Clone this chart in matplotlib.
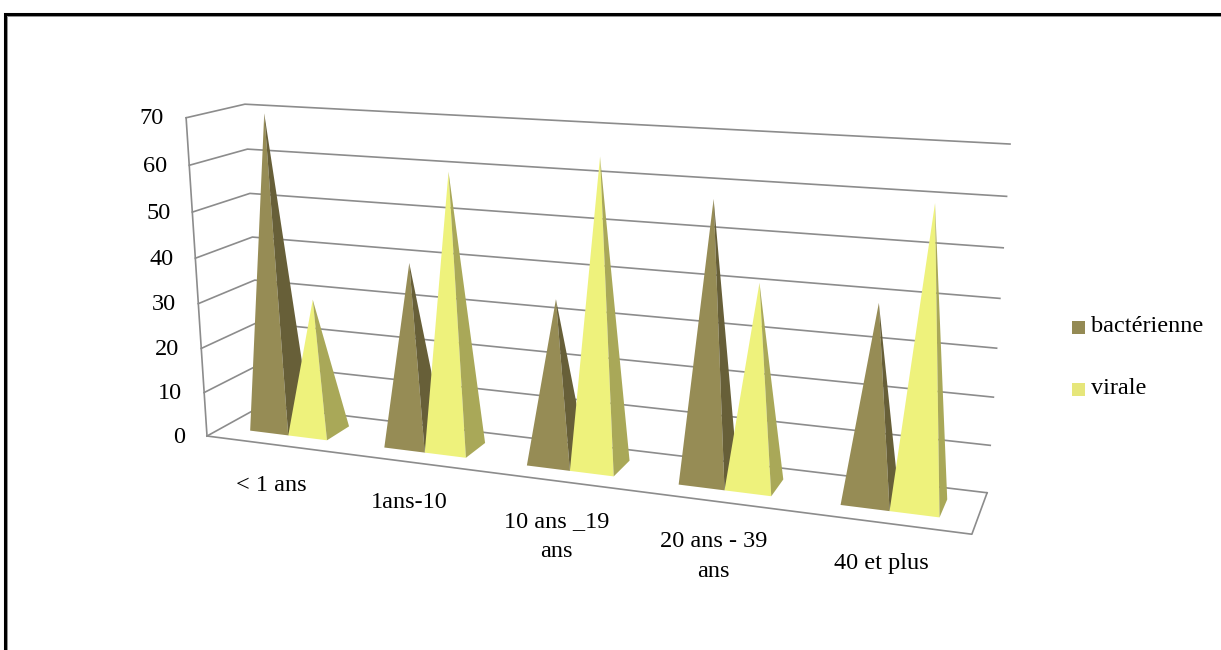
import numpy as np
import matplotlib
matplotlib.use('Agg')
import matplotlib.pyplot as plt
from matplotlib.patches import Polygon, Rectangle

categories = ['< 1 ans', '1ans-10', '10 ans _19\nans', '20 ans - 39\nans', '40 et plus']
series_names = ['bactérienne', 'virale']
bacterienne = [70, 40, 35, 58, 40]
virale = [30, 60, 65, 42, 60]
y_ticks = [0, 10, 20, 30, 40, 50, 60, 70]

front_cols = ['#968c55', '#eef27c']   # face towards the viewer
side_cols = ['#675f38', '#a9a858']    # shaded right face
legend_cols = ['#948a54', '#e6e67a']
grid_c = '#8c8c8c'
font = 'Liberation Serif'
fs = 17.5

W, H = 1221, 650
fig = plt.figure(figsize=(W / 100, H / 100), dpi=100)
ax = fig.add_axes([0, 0, 1, 1])
ax.set_xlim(0, W)
ax.set_ylim(H, 0)
ax.axis('off')

# 3d box (category, value, depth) placed in the figure by its corners,
# camera matrix solved with a DLT so the whole chart is in perspective
n_cat = len(categories)
vmax = y_ticks[-1]
box_corners = [((0, 0, 0), (207, 436)), ((0, vmax, 0), (186, 118)),
               ((0, vmax, 1), (245, 104)), ((n_cat, vmax, 1), (1010, 144)),
               ((n_cat, 0, 1), (987, 493)), ((n_cat, 0, 0), (972, 534))]

rows = []
for (X, Y, Z), (u, v) in box_corners:
    u, v = u / 1000.0, v / 1000.0
    rows.append([X, Y, Z, 1, 0, 0, 0, 0, -u * X, -u * Y, -u * Z, -u])
    rows.append([0, 0, 0, 0, X, Y, Z, 1, -v * X, -v * Y, -v * Z, -v])
_, _, vt = np.linalg.svd(np.array(rows, float))
P = vt[-1].reshape(3, 4)
P[:2] *= 1000.0


def proj(X, Y, Z):
    p = P @ np.array([X, Y, Z, 1.0])
    return p[0] / p[2], p[1] / p[2]


# walls: left side + back gridlines, floor outline
for t in y_ticks:
    xs, ys = zip(proj(0, t, 0), proj(0, t, 1), proj(n_cat, t, 1))
    ax.plot(xs, ys, color=grid_c, lw=1.2, zorder=1)
    u, v = proj(0, t, 0)
    ax.text(u - 22, v + 1, str(t), ha='right', va='center', fontsize=fs,
            family=font)
xs, ys = zip(proj(0, 0, 0), proj(0, vmax, 0))
ax.plot(xs, ys, color=grid_c, lw=1.2, zorder=1)
xs, ys = zip(proj(0, 0, 0), proj(n_cat, 0, 0), proj(n_cat, 0, 1))
ax.plot(xs, ys, color=grid_c, lw=1.2, zorder=1)

# pyramids, drawn left to right so nearer ones cover the others
bw = 0.29
gap = (1 - 2 * bw) / 2
z0, z1 = 0.28, 0.72
for i in range(n_cat):
    for s, vals in enumerate([bacterienne, virale]):
        x0 = i + gap + s * bw
        x1 = x0 + bw
        apex = proj((x0 + x1) / 2, vals[i], (z0 + z1) / 2)
        ax.add_patch(Polygon([proj(x0, 0, z0), proj(x1, 0, z0), apex],
                             closed=True, fc=front_cols[s], ec='none', zorder=2))
        ax.add_patch(Polygon([proj(x1, 0, z0), proj(x1, 0, z1), apex],
                             closed=True, fc=side_cols[s], ec='none', zorder=2))

for k, lab in enumerate(categories):
    u, v = proj(k + 0.5, 0, 0)
    ax.text(u - 2, v + 30, lab, ha='center', va='top', fontsize=fs,
            family=font, linespacing=1.55)

# legend
for s, name in enumerate(series_names):
    y = 327 + s * 62
    ax.add_patch(Rectangle((1072, y - 6.5), 13, 13, fc=legend_cols[s], ec='none'))
    ax.text(1091, y, name, ha='left', va='center', fontsize=fs, family=font)

# frame around the chart area
ax.plot([4.5, 4.5, W + 5], [H + 5, 13.5, 13.5], color='black', lw=2.2,
        solid_joinstyle='miter', clip_on=False)
ax.plot([7, 7, W + 5], [H + 5, 16, 16], color='#808080', lw=0.6,
        solid_joinstyle='miter', clip_on=False)

fig.savefig('out.png', dpi=100)
